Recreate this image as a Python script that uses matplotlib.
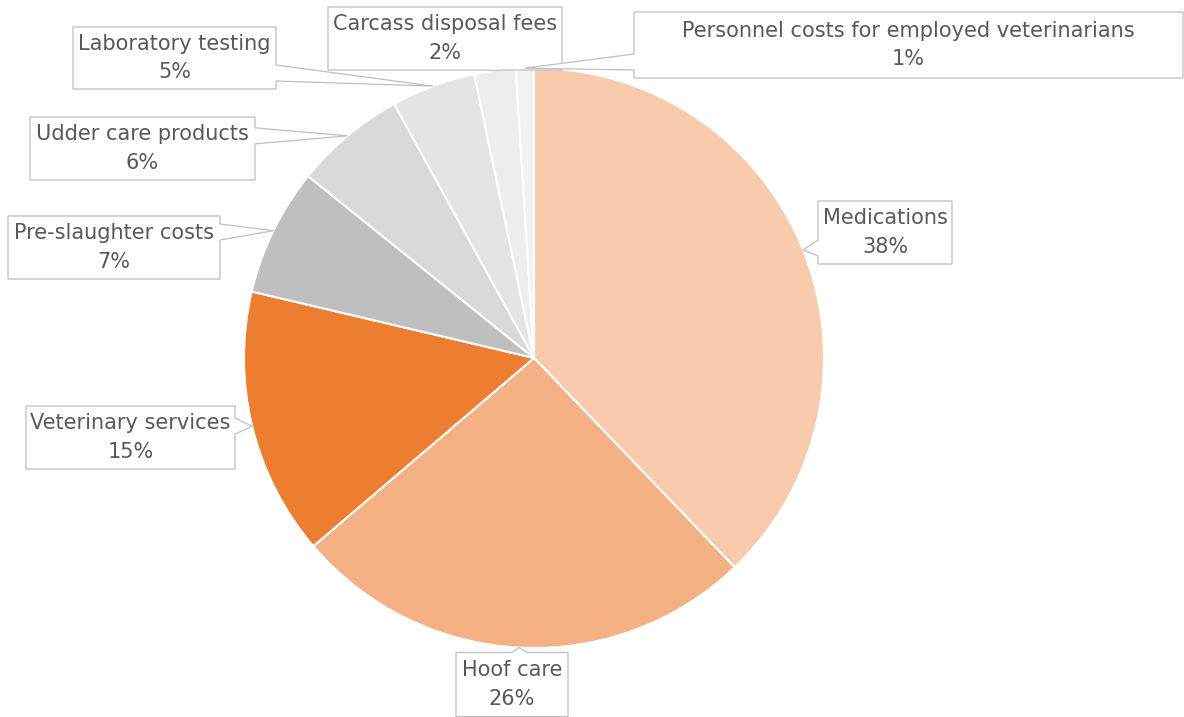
import matplotlib
matplotlib.use('Agg')
import matplotlib.pyplot as plt
import matplotlib.patches as patches
import numpy as np

# cost shares (%), clockwise from 12 o'clock
categories = ['Medications', 'Hoof care', 'Veterinary services', 'Pre-slaughter costs',
              'Udder care products', 'Laboratory testing', 'Carcass disposal fees',
              'Personnel costs for employed veterinarians']
shares = [37.8, 25.9, 14.9, 7.1, 6.2, 4.7, 2.3, 1.0]
slice_colors = ['#F8CBAD', '#F4B183', '#ED7D31', '#BFBFBF',
                '#D9D9D9', '#E4E4E4', '#EDEDED', '#F2F2F2']

W, H = 1184, 717
CENTER = (534, 359)
RADIUS = 290
TEXT_COLOR = '#595959'
BOX_EDGE = '#BFBFBF'

# callout boxes in pixel units: (left, bottom, width, height)
label_boxes = [
    (818, 453, 134, 63),
    (456, 0.5, 112, 64),
    (26, 248, 209, 63),
    (8, 438, 212, 63),
    (30, 537, 225, 63),
    (73, 628, 203, 62),
    (328, 647, 234, 63),
    (634, 639, 549, 66),
]


def callout(ax, box, tip, base_w=16, margin=8):
    x0, y0, w, h = box
    x1, y1 = x0 + w, y0 + h
    tx, ty = tip
    # corners counter-clockwise starting bottom-left
    if tx < x0:
        c = np.clip(ty, y0 + margin + base_w / 2, y1 - margin - base_w / 2)
        pts = [(x0, y0), (x1, y0), (x1, y1), (x0, y1),
               (x0, c + base_w / 2), (tx, ty), (x0, c - base_w / 2)]
    elif tx > x1:
        c = np.clip(ty, y0 + margin + base_w / 2, y1 - margin - base_w / 2)
        pts = [(x0, y0), (x1, y0), (x1, c - base_w / 2), (tx, ty),
               (x1, c + base_w / 2), (x1, y1), (x0, y1)]
    elif ty < y0:
        c = np.clip(tx, x0 + margin + base_w / 2, x1 - margin - base_w / 2)
        pts = [(x0, y0), (c - base_w / 2, y0), (tx, ty), (c + base_w / 2, y0),
               (x1, y0), (x1, y1), (x0, y1)]
    else:
        c = np.clip(tx, x0 + margin + base_w / 2, x1 - margin - base_w / 2)
        pts = [(x0, y0), (x1, y0), (x1, y1), (c + base_w / 2, y1), (tx, ty),
               (c - base_w / 2, y1), (x0, y1)]
    ax.add_patch(patches.Polygon(pts, closed=True, facecolor='white',
                                 edgecolor=BOX_EDGE, linewidth=0.9, zorder=3))


fig = plt.figure(figsize=(W / 100, H / 100), dpi=100)
ax = fig.add_axes([0, 0, 1, 1])

wedges, _ = ax.pie(shares, colors=slice_colors, startangle=90, counterclock=False,
                   center=CENTER, radius=RADIUS,
                   wedgeprops=dict(edgecolor='white', linewidth=1.5))

for wedge, name, share, box in zip(wedges, categories, shares, label_boxes):
    mid = np.deg2rad((wedge.theta1 + wedge.theta2) / 2)
    tip = (CENTER[0] + RADIUS * np.cos(mid), CENTER[1] + RADIUS * np.sin(mid))
    callout(ax, box, tip)
    ax.text(box[0] + box[2] / 2, box[1] + box[3] / 2, f'{name}\n{share:.0f}%',
            ha='center', va='center', fontsize=15, color=TEXT_COLOR,
            linespacing=1.55, zorder=4)

ax.set_xlim(0, W)
ax.set_ylim(0, H)
ax.set_aspect('equal')
ax.axis('off')

fig.savefig('out.png', dpi=100)
